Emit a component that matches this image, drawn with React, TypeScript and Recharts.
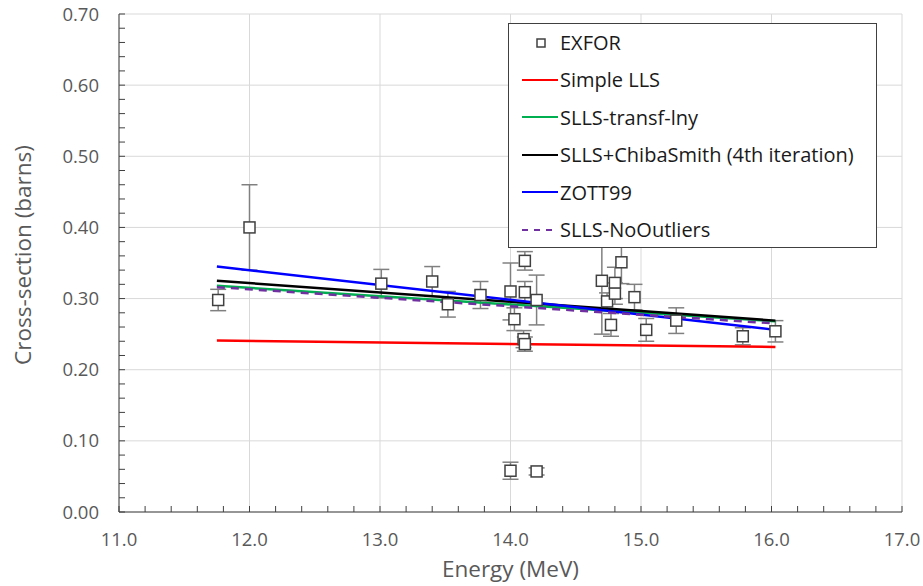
import { ComposedChart, Scatter, Line, XAxis, YAxis, CartesianGrid, ErrorBar, Legend } from "recharts"

// EXFOR measurements
const exforEnergy = [11.76, 12.0, 13.01, 13.4, 13.52, 13.77, 14.0, 14.03, 14.11, 14.11, 14.1, 14.11, 14.2, 14.7, 14.74, 14.77, 14.8, 14.8, 14.85, 14.95, 15.04, 15.27, 15.78, 16.03, 14.0, 14.2]
const exforXs = [0.298, 0.4, 0.321, 0.324, 0.292, 0.305, 0.31, 0.271, 0.353, 0.309, 0.243, 0.236, 0.298, 0.325, 0.296, 0.263, 0.322, 0.307, 0.351, 0.302, 0.256, 0.269, 0.247, 0.254, 0.058, 0.057]
const exforErr = [0.015, 0.06, 0.02, 0.021, 0.018, 0.019, 0.04, 0.016, 0.013, 0.015, 0.012, 0.01, 0.035, 0.075, 0.012, 0.016, 0.022, 0.015, 0.03, 0.018, 0.016, 0.018, 0.012, 0.015, 0.012, 0.005]

// fitted lines, end points
const fitEnergy = [11.75, 16.03]
const simpleLls = [0.241, 0.232]
const sllsTransf = [0.318, 0.268]
const sllsChiba = [0.325, 0.269]
const zott99 = [0.345, 0.256]
const sllsNoOutliers = [0.316, 0.265]

const xTicks = [11, 12, 13, 14, 15, 16, 17]
const yTicks = [0, 0.1, 0.2, 0.3, 0.4, 0.5, 0.6, 0.7]
// minor tick marks: 0.2 MeV and 0.02 barn
const xMinor = Array.from({ length: 31 }, (_, i) => +(11 + i * 0.2).toFixed(1))
const yMinor = Array.from({ length: 36 }, (_, i) => +(i * 0.02).toFixed(2))

const exfor = exforEnergy.map((x, i) => ({ x, y: exforXs[i], err: exforErr[i] }))
const fit = (vals: number[]) => fitEnergy.map((x, i) => ({ x, y: vals[i] }))

const FONT = "'Open Sans', sans-serif"
const GREY = "#595959"
const AXIS = "#404040"

const legendItems = [
  { name: "EXFOR", kind: "square", color: "#404040" },
  { name: "Simple LLS", kind: "line", color: "#ff0000" },
  { name: "SLLS-transf-lny", kind: "line", color: "#00b050" },
  { name: "SLLS+ChibaSmith (4th iteration)", kind: "line", color: "#000000" },
  { name: "ZOTT99", kind: "line", color: "#0000ff" },
  { name: "SLLS-NoOutliers", kind: "dash", color: "#7030a0" },
]

function Square(props: any) {
  const { cx, cy } = props
  if (cx == null || cy == null) return null
  return <rect x={cx - 5.5} y={cy - 5.5} width={11} height={11} fill="#fff" stroke="#404040" strokeWidth={1.5} />
}

function LegendBox() {
  return (
    <div
      style={{
        width: 369,
        height: 225,
        boxSizing: "border-box",
        border: "1.5px solid #404040",
        background: "#fff",
        fontFamily: FONT,
        fontSize: 20,
        color: "#1a1a1a",
        position: "relative",
      }}
    >
      {legendItems.map((it, i) => (
        <div key={it.name} style={{ position: "absolute", left: 0, top: 0 + i * 37.4, height: 37, display: "flex", alignItems: "center" }}>
          <svg width={51} height={20} style={{ flex: "none" }}>
            {it.kind === "square" && <rect x={28} y={6} width={8} height={8} fill="#fff" stroke={it.color} strokeWidth={1.5} />}
            {it.kind === "line" && <line x1={13} y1={10} x2={49} y2={10} stroke={it.color} strokeWidth={2} />}
            {it.kind === "dash" && <line x1={13} y1={10} x2={49} y2={10} stroke={it.color} strokeWidth={2} strokeDasharray="6 6" />}
          </svg>
          <span style={{ whiteSpace: "nowrap" }}>{it.name}</span>
        </div>
      ))}
    </div>
  )
}

function YTitle(props: any) {
  const vb = props.viewBox || {}
  const x = 22
  const y = (vb.y ?? 14) + (vb.height ?? 498) / 2 - 8
  return (
    <text x={x} y={y} transform={`rotate(-90 ${x} ${y})`} textAnchor="middle" dominantBaseline="central" fill={GREY} fontSize={22.5} fontFamily={FONT}>
      Cross-section (barns)
    </text>
  )
}

export default function App() {
  return (
    <div style={{ position: "absolute", left: 0, top: 0, width: 923, height: 586, background: "#fff" }}>
      <ComposedChart width={923} height={586} margin={{ top: 14, right: 21, bottom: 0, left: 0 }}>
        <CartesianGrid stroke="#d9d9d9" strokeWidth={1} horizontalValues={yTicks} verticalValues={xTicks} />
        <XAxis
          type="number"
          dataKey="x"
          domain={[11, 17]}
          ticks={xMinor}
          interval={0}
          tickFormatter={(v: number) => (Math.abs(v - Math.round(v)) < 1e-6 ? v.toFixed(1) : "")}
          height={74}
          stroke={AXIS}
          tickSize={-6}
          tickMargin={27}
          tick={{ fill: GREY, fontSize: 18.5, fontFamily: FONT }}
          label={{ value: "Energy (MeV)", position: "insideBottom", offset: 9, style: { fill: GREY, fontSize: 22.5, fontFamily: FONT } }}
        />
        <YAxis
          type="number"
          dataKey="y"
          domain={[0, 0.7]}
          ticks={yMinor}
          interval={0}
          tickFormatter={(v: number) => (Math.abs(v * 10 - Math.round(v * 10)) < 1e-6 ? v.toFixed(2) : "")}
          width={119}
          stroke={AXIS}
          tickSize={-6}
          tickMargin={26}
          tick={{ fill: GREY, fontSize: 18.5, fontFamily: FONT }}
          label={<YTitle />}
        />
        <Scatter name="EXFOR" data={exfor} shape={<Square />} isAnimationActive={false}>
          <ErrorBar dataKey="err" direction="y" width={8} stroke="#808080" strokeWidth={1.5} />
        </Scatter>
        <Line data={fit(simpleLls)} dataKey="y" stroke="#ff0000" strokeWidth={2.5} dot={false} isAnimationActive={false} name="Simple LLS" />
        <Line data={fit(sllsTransf)} dataKey="y" stroke="#00b050" strokeWidth={2.5} dot={false} isAnimationActive={false} name="SLLS-transf-lny" />
        <Line data={fit(sllsChiba)} dataKey="y" stroke="#000000" strokeWidth={2.5} dot={false} isAnimationActive={false} name="SLLS+ChibaSmith (4th iteration)" />
        <Line data={fit(zott99)} dataKey="y" stroke="#0000ff" strokeWidth={2.5} dot={false} isAnimationActive={false} name="ZOTT99" />
        <Line data={fit(sllsNoOutliers)} dataKey="y" stroke="#7030a0" strokeWidth={2.5} strokeDasharray="8 6" dot={false} isAnimationActive={false} name="SLLS-NoOutliers" />
        <Legend
          layout="horizontal"
          verticalAlign="middle"
          align="center"
          content={() => <LegendBox />}
          wrapperStyle={{ position: "absolute", left: 508, top: 23, width: 369, height: 225 }}
        />
      </ComposedChart>
    </div>
  )
}
